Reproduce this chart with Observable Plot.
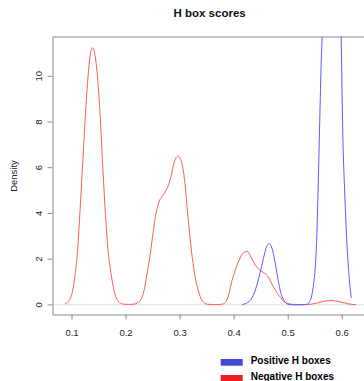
<!DOCTYPE html>
<html>
<head>
<meta charset="utf-8">
<script src="https://cdn.jsdelivr.net/npm/d3@7"></script>
<script src="https://cdn.jsdelivr.net/npm/@observablehq/plot@0.6"></script>
<style>
  html, body { margin: 0; padding: 0; background: #fff; overflow: hidden; }
  #wrap { position: relative; width: 364px; height: 381px; overflow: hidden; }
  #wrap svg { position: absolute; left: 0; top: 0; }
</style>
</head>
<body>
<div id="wrap"></div>
<script>
// ---- data ----
const titleText = "H box scores";
const yLabel = "Density";
const seriesNames = ["Positive H boxes", "Negative H boxes"];
const lineColors = ["#5a5aff", "#ff5a5a"];
const legendColors = ["#4149d1", "#ee1d25"];
const xTicks = [0.1, 0.2, 0.3, 0.4, 0.5, 0.6];
const yTicks = [0, 2, 4, 6, 8, 10];

// Negative H boxes (red)
const negX = [0.088, 0.095, 0.1, 0.105, 0.11, 0.115, 0.12, 0.125, 0.13, 0.135, 0.138, 0.142, 0.147, 0.152, 0.157, 0.162, 0.167, 0.172, 0.177, 0.182, 0.188, 0.195, 0.205, 0.215, 0.222, 0.2265, 0.232, 0.2388, 0.244, 0.248, 0.254, 0.2604, 0.2696, 0.279, 0.284, 0.288, 0.2963, 0.3037, 0.309, 0.313, 0.319, 0.324, 0.328, 0.334, 0.3407, 0.35, 0.365, 0.378, 0.384, 0.39, 0.396, 0.402, 0.4086, 0.416, 0.424, 0.43, 0.436, 0.442, 0.4487, 0.455, 0.461, 0.467, 0.473, 0.48, 0.486, 0.492, 0.498, 0.51, 0.53, 0.545, 0.555, 0.563, 0.572, 0.5815, 0.59, 0.6, 0.61, 0.624];
const negDensity = [0.05, 0.2, 0.5, 1.2, 2.3, 4.2, 6.3, 8.4, 10.1, 11.1, 11.25, 11.0, 10.0, 8.3, 6.0, 3.9, 2.3, 1.4, 0.7, 0.3, 0.1, 0.03, 0.02, 0.03, 0.1, 0.19, 0.5, 1.35, 2.1, 2.8, 3.82, 4.47, 4.84, 5.28, 5.7, 6.15, 6.51, 6.15, 5.3, 4.26, 2.8, 1.8, 1.2, 0.6, 0.19, 0.03, 0.01, 0.03, 0.11, 0.45, 1.06, 1.5, 1.93, 2.25, 2.34, 2.15, 1.86, 1.65, 1.5, 1.4, 1.28, 1.05, 0.77, 0.5, 0.33, 0.15, 0.07, 0.02, 0.01, 0.04, 0.09, 0.14, 0.18, 0.19, 0.16, 0.11, 0.05, 0.01];

// Positive H boxes (blue)
const posX = [0.415, 0.425, 0.43, 0.437, 0.443, 0.448, 0.452, 0.457, 0.461, 0.465, 0.469, 0.473, 0.477, 0.481, 0.485, 0.49, 0.495, 0.5, 0.51, 0.52, 0.53, 0.535, 0.54, 0.544, 0.547, 0.5506, 0.553, 0.555, 0.558, 0.561, 0.564, 0.57, 0.58, 0.59, 0.594, 0.598, 0.601, 0.605, 0.608, 0.611, 0.614, 0.6166];
const posDensity = [0.01, 0.1, 0.2, 0.5, 0.95, 1.4, 1.8, 2.3, 2.6, 2.68, 2.55, 2.2, 1.7, 1.15, 0.65, 0.3, 0.1, 0.02, 0, 0, 0.01, 0.03, 0.15, 0.45, 0.9, 1.8, 3.0, 4.7, 7.6, 10.5, 12.5, 20, 27, 25, 18, 11.9, 7.6, 4.7, 3.0, 1.8, 0.9, 0.33];

const neg = negX.map((x, i) => ({x, y: negDensity[i]}));
const pos = posX.map((x, i) => ({x, y: posDensity[i]}));

const font = "'Liberation Sans', Arial, Helvetica, sans-serif";

const chart = Plot.plot({
  width: 364,
  height: 381,
  marginLeft: 52.5,
  marginRight: -3,
  marginTop: 36.5,
  marginBottom: 66.5,
  style: {fontFamily: font, fontSize: "9.5px", color: "#222", background: "transparent", overflow: "hidden"},
  x: {domain: [0.0648, 0.6468]},
  y: {domain: [-0.444, 11.72]},
  marks: [
    Plot.ruleY([0], {stroke: "#dedede", strokeWidth: 1}),
    Plot.line(neg, {x: "x", y: "y", stroke: lineColors[1], strokeWidth: 1, curve: "monotone-x", clip: true}),
    Plot.line(pos, {x: "x", y: "y", stroke: lineColors[0], strokeWidth: 1, curve: "monotone-x", clip: true}),
    Plot.frame({stroke: "#8a8a8a", strokeWidth: 1}),
    Plot.axisX({ticks: xTicks, tickSize: 5, tickPadding: 9, tickFormat: d3.format(".1f"), stroke: "#8a8a8a", fill: "#222", label: null}),
    Plot.axisY({ticks: yTicks, tickSize: 5, tickPadding: 6, tickRotate: -90, textAnchor: "middle", lineAnchor: "bottom",
      stroke: "#8a8a8a", fill: "#222", label: yLabel, labelAnchor: "center", labelOffset: 43, labelArrow: "none"})
  ]
});
document.getElementById("wrap").appendChild(chart);

// title and legend overlay
const overlay = d3.select("#wrap").append("svg")
  .attr("width", 364).attr("height", 381)
  .style("font-family", font);

overlay.append("text")
  .attr("x", 209.6).attr("y", 16.7)
  .attr("text-anchor", "middle")
  .attr("font-weight", "bold").attr("font-size", "11.5px").attr("fill", "#111")
  .text(titleText);

const legend = overlay.append("g");
seriesNames.forEach((name, i) => {
  const y0 = 359 + i * 16;
  legend.append("rect")
    .attr("x", 220.7).attr("y", y0).attr("width", 22).attr("height", 6.7)
    .attr("fill", legendColors[i]);
  legend.append("text")
    .attr("x", 250.7).attr("y", y0 + 5)
    .attr("font-weight", "bold").attr("font-size", "10px").attr("fill", "#000")
    .text(name);
});
</script>
</body>
</html>
